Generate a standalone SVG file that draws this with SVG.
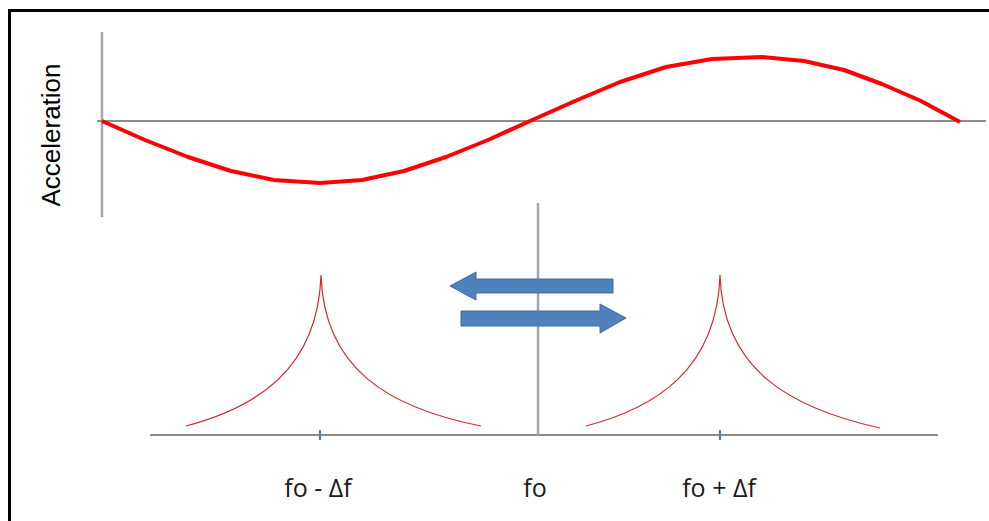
<svg xmlns="http://www.w3.org/2000/svg" width="989" height="521" viewBox="0 0 989 521">
<style>
.axis{stroke:#8c8c8c;stroke-width:2;fill:none}
.vaxis{stroke:#a6a6a6;stroke-width:2.5;fill:none}
.peak{stroke:#d8282e;stroke-width:1.2;fill:none}
.tick{stroke:#4a7ebb;stroke-width:2}
.arrow{fill:#4f81bd;stroke:#3d6da3;stroke-width:1}
.lbl{font-family:"Open Sans","Noto Sans",sans-serif;font-size:25px;fill:#1a1a1a;text-anchor:middle}
</style>
<rect width="989" height="521" fill="#fff"/>
<path d="M9.5,521 V10.5 H989" fill="none" stroke="#000" stroke-width="3"/>
<g id="connectors">
<line class="vaxis" x1="102" y1="32" x2="102" y2="217"/>
<line class="axis" x1="97" y1="121" x2="986" y2="121"/>
<line class="axis" x1="150" y1="435" x2="938" y2="435"/>
<line class="vaxis" x1="538" y1="203" x2="538" y2="435"/>
</g>
<g id="wave">
<polyline points="102,121 145,140 188,157 231,171 274,180 320,183 362,180 404,171 446,157 488,140 530,121 575,101 620,82 666,67 712,59 762,57 804,61 844,70 882,84 921,101 960,122" fill="none" stroke="#ff0000" stroke-width="4" stroke-linejoin="round"/>
</g>
<g id="ylabel">
<text x="60" y="135" transform="rotate(-90 60 135)" font-family="'Liberation Sans',Arial,sans-serif" font-size="26" text-anchor="middle" fill="#000">Acceleration</text>
</g>
<g id="peak-left">
<path class="peak" d="M186,426 C255,408 318,370 321,275 C324,370 390,408 481,426"/>
<line class="tick" x1="320" y1="430" x2="320" y2="440"/>
</g>
<g id="peak-right">
<path class="peak" d="M586,426 C655,408 717,370 720,275 C723,370 790,408 880,428"/>
<line class="tick" x1="720" y1="430" x2="720" y2="440"/>
</g>
<g id="arrow-left">
<polygon class="arrow" points="450,286 476,272 476,279 613,279 613,293 476,293 476,300"/>
</g>
<g id="arrow-right">
<polygon class="arrow" points="461,311 600,311 600,304 626,318 600,333 600,326 461,326"/>
</g>
<g id="labels">
<text class="lbl" x="318" y="497">fo - Δf</text>
<text class="lbl" x="535" y="497">fo</text>
<text class="lbl" x="719" y="497">fo + Δf</text>
</g>
</svg>
